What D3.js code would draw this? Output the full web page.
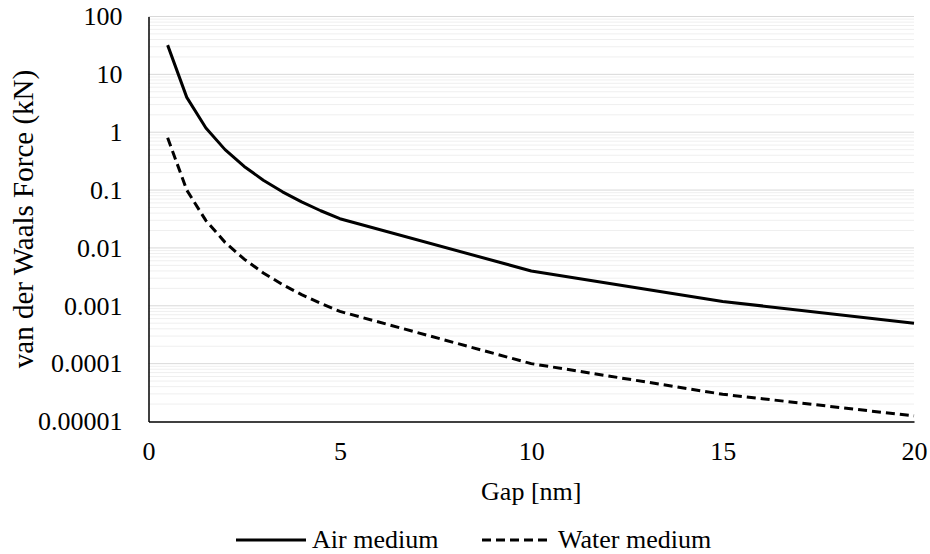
<!DOCTYPE html>
<html>
<head>
<meta charset="utf-8">
<script src="https://cdn.jsdelivr.net/npm/d3@7"></script>
<style>
  html, body { margin: 0; padding: 0; background: #fff; }
  svg { display: block; }
  svg text { font-family: "Liberation Serif", "Times New Roman", Times, "DejaVu Serif", serif; fill: #000; }
</style>
</head>
<body>
<svg id="chart" width="930" height="554"></svg>
<script>
// Gap distances (nm)
const gaps = [0.5, 1, 1.5, 2, 2.5, 3, 3.5, 4, 4.5, 5, 10, 15, 20];
// van der Waals force (kN) in air
const airForce = [32, 4, 1.185, 0.5, 0.256, 0.148, 0.0933, 0.0625, 0.0439, 0.032, 0.004, 0.00119, 0.0005];
// van der Waals force (kN) in water
const waterForce = [0.8, 0.1, 0.0296, 0.0125, 0.0064, 0.0037, 0.00233, 0.00156, 0.0011, 0.0008, 0.0001, 0.0000296, 0.0000125];
// Axis ticks
const xTicks = [0, 5, 10, 15, 20];
const yTicks = [100, 10, 1, 0.1, 0.01, 0.001, 0.0001, 0.00001];
const yTickLabels = ["100", "10", "1", "0.1", "0.01", "0.001", "0.0001", "0.00001"];
const seriesNames = ["Air medium", "Water medium"];

const svg = d3.select("#chart");
const plot = { left: 148.5, right: 914, top: 16.5, bottom: 421.5 };
const fontSize = 26;
const serif = '"Liberation Serif", "Times New Roman", Times, "DejaVu Serif", serif';

const x = d3.scaleLinear().domain([0, 20]).range([plot.left, plot.right]);
const y = d3.scaleLog().domain([0.00001, 100]).range([plot.bottom, plot.top]);

// Minor gridlines (2..9 within each decade)
const minor = [];
for (let e = -5; e < 2; e++) {
  for (let k = 2; k <= 9; k++) minor.push(k * Math.pow(10, e));
}
svg.append("g")
  .selectAll("line").data(minor).join("line")
  .attr("x1", plot.left).attr("x2", plot.right)
  .attr("y1", d => y(d)).attr("y2", d => y(d))
  .attr("stroke", "#efefef").attr("stroke-width", 1);

// Major gridlines
svg.append("g")
  .selectAll("line").data(yTicks.slice(0, -1)).join("line")
  .attr("x1", plot.left).attr("x2", plot.right)
  .attr("y1", d => y(d)).attr("y2", d => y(d))
  .attr("stroke", "#d9d9d9").attr("stroke-width", 1);

// Axes
const xAxis = d3.axisBottom(x).tickValues(xTicks).tickSize(0).tickPadding(0);
const gx = svg.append("g").attr("transform", `translate(0,${plot.bottom})`).call(xAxis)
  .attr("font-family", serif).attr("font-size", fontSize);
gx.select(".domain").attr("stroke", "#000").attr("stroke-width", 1.5);
gx.selectAll("text").attr("dy", null).attr("y", 38);

const yAxis = d3.axisLeft(y).tickValues(yTicks).tickFormat((d, i) => yTickLabels[i]).tickSize(0).tickPadding(26);
const gy = svg.append("g").attr("transform", `translate(${plot.left},0)`).call(yAxis)
  .attr("font-family", serif).attr("font-size", fontSize);
gy.select(".domain").attr("stroke", "#000").attr("stroke-width", 1.5);

// Series lines
const line = d3.line().x(d => x(d[0])).y(d => y(d[1]));
const airData = gaps.map((g, i) => [g, airForce[i]]);
const waterData = gaps.map((g, i) => [g, waterForce[i]]);

svg.append("path").datum(airData)
  .attr("d", line).attr("fill", "none")
  .attr("stroke", "#000").attr("stroke-width", 3).attr("stroke-linejoin", "round");
svg.append("path").datum(waterData)
  .attr("d", line).attr("fill", "none")
  .attr("stroke", "#000").attr("stroke-width", 3).attr("stroke-dasharray", "9,5");

// Axis titles
svg.append("text")
  .attr("x", (plot.left + plot.right) / 2).attr("y", 500)
  .attr("text-anchor", "middle").attr("font-size", fontSize)
  .text("Gap [nm]");
svg.append("text")
  .attr("transform", `translate(33,${(plot.top + plot.bottom) / 2}) rotate(-90)`)
  .attr("text-anchor", "middle").attr("font-size", 29)
  .text("van der Waals Force (kN)");

// Legend
const legend = svg.append("g").attr("transform", "translate(0,540)");
const legendItems = [
  { name: seriesNames[0], x: 236, dash: null },
  { name: seriesNames[1], x: 482, dash: "9,5" }
];
legendItems.forEach(it => {
  legend.append("line")
    .attr("x1", it.x).attr("x2", it.x + 70).attr("y1", 0).attr("y2", 0)
    .attr("stroke", "#000").attr("stroke-width", 3)
    .attr("stroke-dasharray", it.dash);
  legend.append("text")
    .attr("x", it.x + 76).attr("y", 8).attr("font-size", fontSize)
    .text(it.name);
});
</script>
</body>
</html>
